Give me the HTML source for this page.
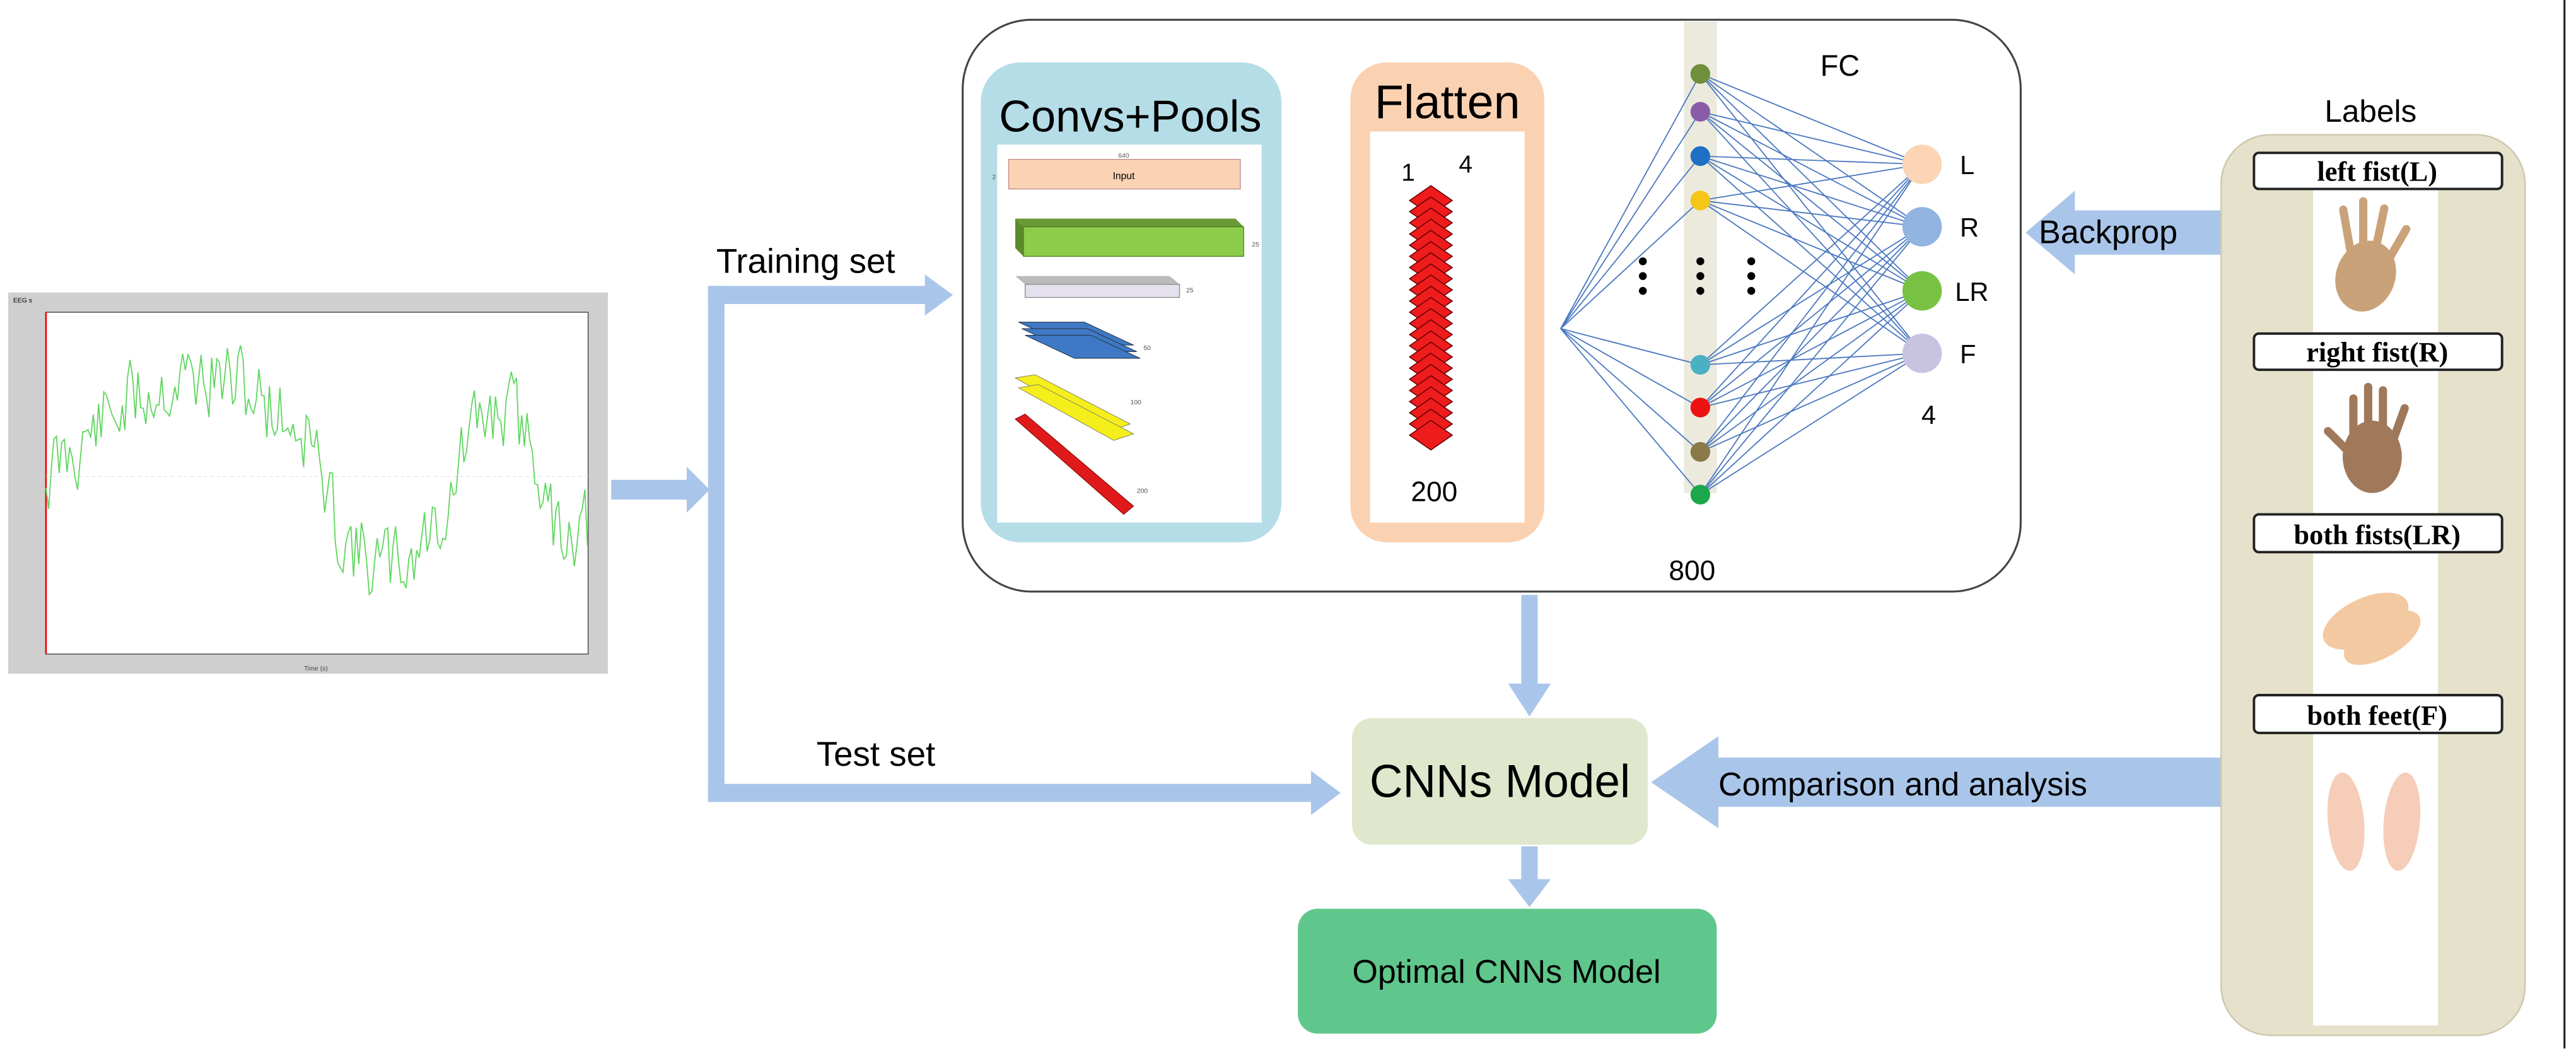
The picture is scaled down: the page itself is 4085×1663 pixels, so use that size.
<!DOCTYPE html>
<html><head><meta charset="utf-8">
<style>
html,body{margin:0;padding:0;background:#fff;}
svg{display:block;}
text{font-family:"Liberation Sans",sans-serif;}
.serif{font-family:"Liberation Serif",serif;font-weight:bold;}
</style></head>
<body>
<svg id="s" width="4085" height="1663" viewBox="0 0 4085 1663" xmlns="http://www.w3.org/2000/svg">
<g id="g" transform="scale(2.6052)">
<line x1="1561" y1="0" x2="1561" y2="638" stroke="#222" stroke-width="1.2"/>

<!-- EEG chart -->
<rect x="5" y="178" width="365" height="232" fill="#cfcfcf"/>
<rect x="28" y="190" width="330" height="208" fill="#fff" stroke="#555" stroke-width="0.6"/>
<line x1="28" y1="190" x2="28" y2="398" stroke="#e00" stroke-width="1"/>
<line x1="28" y1="290" x2="358" y2="290" stroke="#ddd" stroke-width="0.4" stroke-dasharray="2,2"/>
<text x="8" y="184" font-size="4">EEG s</text>
<text x="185" y="408" font-size="4" fill="#444">Time (s)</text>
<polyline id="eeg" fill="none" stroke="#5fd65f" stroke-width="0.7" points=""/>

<g fill="#a9c6ea" stroke="none">
  <rect x="372" y="292" width="48" height="12"/>
  <polygon points="418,284 432,298 418,312"/>
  <rect x="431" y="174" width="10" height="314"/>
  <rect x="431" y="174" width="134" height="11"/>
  <polygon points="563,167 580,179.5 563,192"/>
  <rect x="431" y="477" width="370" height="11"/>
  <polygon points="798,469 816,482.5 798,496"/>
  <rect x="782" y="195" width="20" height="12"/>
  <polygon points="800,186 814,201 800,216"/>
  <rect x="926" y="362" width="10" height="56"/>
  <polygon points="918,416 931,436 944,416"/>
  <rect x="926" y="515" width="10" height="22"/>
  <polygon points="918,535 931,552 944,535"/>
  <rect x="1262" y="128" width="90" height="27"/>
  <polygon points="1263,116 1233,141.5 1263,167"/>
  <rect x="1040" y="461" width="312" height="30"/>
  <polygon points="1046,448 1005,476 1046,504"/>
</g>
<text x="436" y="166" font-size="21">Training  set</text>
<text x="497" y="466" font-size="21">Test  set</text>
<text x="1241" y="148" font-size="20">Backprop</text>
<text x="1046" y="484" font-size="20">Comparison and analysis</text>

<rect x="586" y="12" width="644" height="348" rx="42" fill="#fff" stroke="#444" stroke-width="1.2"/>
<rect x="597" y="38" width="183" height="292" rx="24" fill="#b4dde7"/>
<rect x="607" y="88" width="161" height="230" fill="#fff"/>
<text x="688" y="80" font-size="27" text-anchor="middle">Convs+Pools</text>
<rect x="614" y="97" width="141" height="18" fill="#fbd2b4" stroke="#b88" stroke-width="0.5"/>
<text x="684" y="109" font-size="6" text-anchor="middle">Input</text>
<text x="684" y="96" font-size="4" text-anchor="middle" fill="#555">640</text>
<polygon points="618,133 752,133 757,138 623,138" fill="#6a9a35"/>
<rect x="623" y="138" width="134" height="18" fill="#8ccc4a" stroke="#4a7a25" stroke-width="0.5"/>
<polygon points="618,133 623,138 623,156 618,151" fill="#5a8a2a"/>
<polygon points="618,168 712,168 718,173 624,173" fill="#bbb"/>
<rect x="624" y="173" width="94" height="8" fill="#e4e0ee" stroke="#888" stroke-width="0.5"/>
<g fill="#3f78c4" stroke="#234" stroke-width="0.4">
  <polygon points="620,196 660,196 690,210 650,210"/>
  <polygon points="622,200 662,200 692,214 652,214"/>
  <polygon points="624,204 664,204 694,218 654,218"/>
</g>
<g fill="#f4ef1a" stroke="#886" stroke-width="0.4">
  <polygon points="618,230 630,228 688,258 676,262"/>
  <polygon points="620,236 632,234 690,264 678,268"/>
</g>
<polygon points="618,255 624,252 690,308 684,313" fill="#e01a1a" stroke="#800" stroke-width="0.4"/>
<text x="604" y="109" font-size="4" fill="#555">2</text>
<text x="762" y="150" font-size="4" fill="#555">25</text>
<text x="722" y="178" font-size="4" fill="#555">25</text>
<text x="696" y="213" font-size="4" fill="#555">50</text>
<text x="688" y="246" font-size="4" fill="#555">100</text>
<text x="692" y="300" font-size="4" fill="#555">200</text>

<rect x="822" y="38" width="118" height="292" rx="22" fill="#fad2b2"/>
<rect x="834" y="80" width="94" height="238" fill="#fff"/>
<text x="881" y="72" font-size="29" text-anchor="middle">Flatten</text>
<g id="diam"></g>
<text x="853" y="110" font-size="15">1</text>
<text x="888" y="105" font-size="15">4</text>
<text x="873" y="305" font-size="17" text-anchor="middle">200</text>

<rect x="1025" y="13" width="20" height="287" fill="#eceadd"/>
<g id="fcl" stroke="#4a78c0" stroke-width="0.7"></g>
<g id="fcn"></g>
<g fill="#000">
  <circle cx="1000" cy="159" r="2.4"/><circle cx="1000" cy="168" r="2.4"/><circle cx="1000" cy="177" r="2.4"/>
  <circle cx="1035" cy="159" r="2.4"/><circle cx="1035" cy="168" r="2.4"/><circle cx="1035" cy="177" r="2.4"/>
  <circle cx="1066" cy="159" r="2.4"/><circle cx="1066" cy="168" r="2.4"/><circle cx="1066" cy="177" r="2.4"/>
</g>
<text x="1120" y="46" font-size="18" text-anchor="middle">FC</text>
<text x="1030" y="353" font-size="17" text-anchor="middle">800</text>
<text x="1193" y="106" font-size="16">L</text>
<text x="1193" y="144" font-size="16">R</text>
<text x="1190" y="183" font-size="16">LR</text>
<text x="1193" y="221" font-size="16">F</text>
<text x="1174" y="258" font-size="16" text-anchor="middle">4</text>

<rect x="823" y="437" width="180" height="77" rx="12" fill="#dfe7cd"/>
<text x="913" y="485" font-size="28" text-anchor="middle">CNNs Model</text>
<rect x="790" y="553" width="255" height="76" rx="12" fill="#5fc78c"/>
<text x="917" y="598" font-size="20" text-anchor="middle">Optimal CNNs  Model</text>

<text x="1443" y="74" font-size="19" text-anchor="middle">Labels</text>
<rect x="1352" y="82" width="185" height="548" rx="30" fill="#e6e1cb" stroke="#cfc9b0" stroke-width="1"/>
<rect x="1408" y="112" width="76" height="512" fill="#fff"/>
<g fill="#c9a27a">
  <ellipse cx="1440" cy="168" rx="18" ry="22" transform="rotate(20 1440 168)"/>
  <rect x="1426" y="125" width="5" height="35" rx="2.5" transform="rotate(-10 1428 140)"/>
  <rect x="1436" y="120" width="5" height="38" rx="2.5"/>
  <rect x="1446" y="124" width="5" height="36" rx="2.5" transform="rotate(12 1448 140)"/>
  <rect x="1456" y="135" width="5" height="30" rx="2.5" transform="rotate(30 1458 150)"/>
</g>
<g fill="#a0785a">
  <ellipse cx="1444" cy="278" rx="18" ry="22"/>
  <rect x="1430" y="240" width="5" height="34" rx="2.5"/>
  <rect x="1439" y="233" width="5" height="38" rx="2.5"/>
  <rect x="1448" y="235" width="5" height="36" rx="2.5"/>
  <rect x="1457" y="245" width="5" height="30" rx="2.5" transform="rotate(20 1459 260)"/>
  <rect x="1420" y="258" width="5" height="22" rx="2.5" transform="rotate(-45 1422 268)"/>
</g>
<g fill="#f3c9a2">
  <ellipse cx="1440" cy="378" rx="28" ry="14" transform="rotate(-25 1440 378)"/>
  <ellipse cx="1450" cy="388" rx="26" ry="12" transform="rotate(-30 1450 388)"/>
</g>
<g fill="#f5cdb8">
  <ellipse cx="1428" cy="500" rx="11" ry="30" transform="rotate(-5 1428 500)"/>
  <ellipse cx="1462" cy="500" rx="11" ry="30" transform="rotate(5 1462 500)"/>
</g>
<g fill="#fff" stroke="#222" stroke-width="1.5">
  <rect x="1372" y="93" width="151" height="22" rx="3"/>
  <rect x="1372" y="203" width="151" height="22" rx="3"/>
  <rect x="1372" y="313" width="151" height="23" rx="3"/>
  <rect x="1372" y="423" width="151" height="23" rx="3"/>
</g>
<text class="serif" x="1447" y="110" font-size="17" text-anchor="middle">left fist(L)</text>
<text class="serif" x="1447" y="220" font-size="17" text-anchor="middle">right fist(R)</text>
<text class="serif" x="1447" y="331" font-size="17" text-anchor="middle">both fists(LR)</text>
<text class="serif" x="1447" y="441" font-size="17" text-anchor="middle">both feet(F)</text>
</g>
<script>
(function(){
var ns="http://www.w3.org/2000/svg";
var pts=[],seed=11;function r(){seed=(seed*9301+49297)%233280;return seed/233280;}
var y=290;
for(var x=28;x<=358;x+=1.6){
 var t=(x-28)/330;
 var base;
 if(t<0.5)base=290-60*Math.sin(t/0.5*Math.PI*0.9);
 else if(t<0.75)base=300+45*Math.sin((t-0.5)/0.25*Math.PI);
 else if(t<0.92)base=290-40*Math.sin((t-0.75)/0.17*Math.PI);
 else base=320;
 y=0.35*y+0.65*(base+(r()-0.5)*70);
 y=Math.max(205,Math.min(392,y));
 pts.push(x.toFixed(1)+","+y.toFixed(1));
}
document.getElementById("eeg").setAttribute("points",pts.join(" "));
var d=document.getElementById("diam");
for(var i=0;i<22;i++){var cy=122+i*6.8;var p=document.createElementNS(ns,"polygon");
p.setAttribute("points",(871)+","+(cy-9)+" "+(884)+","+cy+" "+871+","+(cy+9)+" "+858+","+cy);
p.setAttribute("fill","#ee1c1c");p.setAttribute("stroke","#600");p.setAttribute("stroke-width","0.6");d.appendChild(p);}
var ny=[45,68,95,122,222,248,275,301],nc=["#6f8f3a","#8a5ca8","#1f6fc4","#f5c518","#4ab0c4","#ee1111","#8a7a4a","#1aa84a"];
var oy=[100,138,177,215],oc=["#fbd5b5","#91b4e0","#78c243","#c9c3e2"];
var L=document.getElementById("fcl"),N=document.getElementById("fcn");
function ln(a,b,c,e){var l=document.createElementNS(ns,"line");l.setAttribute("x1",a);l.setAttribute("y1",b);l.setAttribute("x2",c);l.setAttribute("y2",e);L.appendChild(l);}
for(var i=0;i<8;i++){ln(950,200,1035,ny[i]);for(var j=0;j<4;j++)ln(1035,ny[i],1170,oy[j]);}
for(var i=0;i<8;i++){var c=document.createElementNS(ns,"circle");c.setAttribute("cx",1035);c.setAttribute("cy",ny[i]);c.setAttribute("r",6);c.setAttribute("fill",nc[i]);N.appendChild(c);}
for(var j=0;j<4;j++){var c=document.createElementNS(ns,"circle");c.setAttribute("cx",1170);c.setAttribute("cy",oy[j]);c.setAttribute("r",12);c.setAttribute("fill",oc[j]);N.appendChild(c);}
})();
</script>
</svg>
</body></html>
